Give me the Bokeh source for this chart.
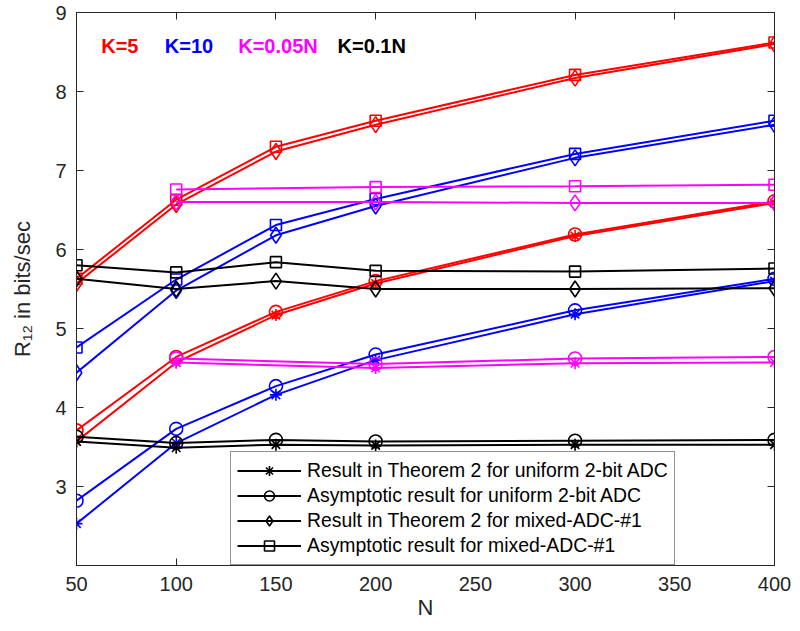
from bokeh.plotting import figure
from bokeh.models import Range1d, FixedTicker, LinearAxis, Legend, LegendItem, Label
from bokeh.embed import file_html
from bokeh.resources import INLINE

# ---------------- data ----------------
N_ALL = [50, 100, 150, 200, 300, 400]
N_MAG = [100, 200, 300, 400]

# K = 5 (red)
k5_thm_uni = [3.57, 4.57, 5.17, 5.57, 6.17, 6.59]
k5_asy_uni = [3.71, 4.64, 5.21, 5.60, 6.19, 6.61]
k5_thm_mix = [5.57, 6.57, 7.24, 7.58, 8.17, 8.60]
k5_asy_mix = [5.63, 6.63, 7.30, 7.63, 8.21, 8.62]

# K = 10 (blue)
k10_thm_uni = [2.53, 3.55, 4.16, 4.60, 5.18, 5.60]
k10_asy_uni = [2.82, 3.73, 4.27, 4.67, 5.23, 5.63]
k10_thm_mix = [4.44, 5.48, 6.18, 6.55, 7.16, 7.58]
k10_asy_mix = [4.76, 5.62, 6.31, 6.64, 7.21, 7.63]

# K = 0.05N (magenta)
k005_thm_uni = [4.57, 4.50, 4.56, 4.57]
k005_asy_uni = [4.62, 4.55, 4.62, 4.64]
k005_thm_mix = [6.60, 6.60, 6.59, 6.59]
k005_asy_mix = [6.76, 6.79, 6.80, 6.82]

# K = 0.1N (black)
k01_thm_uni = [3.57, 3.49, 3.53, 3.52, 3.53, 3.53]
k01_asy_uni = [3.63, 3.55, 3.59, 3.57, 3.58, 3.59]
k01_thm_mix = [5.63, 5.50, 5.60, 5.50, 5.50, 5.51]
k01_asy_mix = [5.80, 5.71, 5.84, 5.73, 5.72, 5.76]

X_TICKS = [50, 100, 150, 200, 250, 300, 350, 400]
Y_TICKS = [3, 4, 5, 6, 7, 8, 9]

LEGEND_LABELS = [
    "Result in Theorem 2 for uniform 2-bit ADC",
    "Asymptotic result for uniform 2-bit ADC",
    "Result in Theorem 2 for mixed-ADC-#1",
    "Asymptotic result for mixed-ADC-#1",
]
K_LABELS = ["K=5", "K=10", "K=0.05N", "K=0.1N"]
K_COLORS = ["#FF0000", "#0000FF", "#FF00FF", "#000000"]
K_LABEL_X = [62.4, 94.3, 131.1, 180.9]
K_LABEL_Y = 8.57

# ---------------- figure ----------------
FONT = "Liberation Sans"
AX_COL = "#262626"

p = figure(width=792, height=623, output_backend="svg", toolbar_location=None,
           x_range=Range1d(50, 400), y_range=Range1d(2, 9),
           min_border_left=76, min_border_right=18, min_border_top=12,
           min_border_bottom=58)
p.background_fill_color = "white"
p.border_fill_color = "white"
p.outline_line_color = AX_COL
p.outline_line_width = 1
p.xgrid.visible = False
p.ygrid.visible = False

for ax, ticks in ((p.xaxis[0], X_TICKS), (p.yaxis[0], Y_TICKS)):
    ax.ticker = FixedTicker(ticks=ticks)
    ax.major_tick_in = 7
    ax.major_tick_out = 0
    ax.minor_tick_in = 0
    ax.minor_tick_out = 0
    ax.axis_line_color = AX_COL
    ax.major_tick_line_color = AX_COL
    ax.major_label_text_font = FONT
    ax.major_label_text_font_size = "20px"
    ax.major_label_text_color = AX_COL
    ax.axis_label_text_font = FONT
    ax.axis_label_text_font_size = "22px"
    ax.axis_label_text_font_style = "normal"
    ax.axis_label_text_color = AX_COL

p.xaxis[0].axis_label = "N"
p.xaxis[0].major_label_standoff = 11
p.xaxis[0].axis_label_standoff = 1
p.yaxis[0].axis_label = "R\u2081\u2082 in bits/sec"
p.yaxis[0].major_label_standoff = 10
p.yaxis[0].axis_label_standoff = 17

# box ticks on top and right (no labels drawn)
for loc, ticks in (("above", X_TICKS), ("right", Y_TICKS)):
    ax = LinearAxis(ticker=FixedTicker(ticks=ticks))
    ax.major_tick_in = 7
    ax.major_tick_out = 0
    ax.minor_tick_in = 0
    ax.minor_tick_out = 0
    ax.major_label_text_color = None
    ax.major_label_text_font_size = "1px"
    ax.major_label_standoff = 0
    ax.axis_line_color = AX_COL
    ax.major_tick_line_color = AX_COL
    p.add_layout(ax, loc)

# ---------------- series ----------------
MARKERS = [("asterisk", 12), ("circle", 13), ("diamond", 16), ("square", 11)]

groups = [
    (N_ALL, [k5_thm_uni, k5_asy_uni, k5_thm_mix, k5_asy_mix], "#FF0000"),
    (N_ALL, [k10_thm_uni, k10_asy_uni, k10_thm_mix, k10_asy_mix], "#0000FF"),
    (N_MAG, [k005_thm_uni, k005_asy_uni, k005_thm_mix, k005_asy_mix], "#FF00FF"),
    (N_ALL, [k01_thm_uni, k01_asy_uni, k01_thm_mix, k01_asy_mix], "#000000"),
]

legend_renderers = []
for xs, series, color in groups:
    for ys, (mk, sz) in zip(series, MARKERS):
        lr = p.line(xs, ys, line_color=color, line_width=2)
        sr = p.scatter(xs, ys, marker=mk, size=sz, line_color=color,
                       fill_color=None, line_width=1.6)
        if color == "#000000":
            legend_renderers.append([lr, sr])

legend = Legend(items=[LegendItem(label=lab, renderers=rs)
                       for lab, rs in zip(LEGEND_LABELS, legend_renderers)],
                location=(154, 0))
legend.label_text_font = FONT
legend.label_text_font_size = "19.4px"
legend.label_text_color = "#000000"
legend.border_line_color = AX_COL
legend.border_line_width = 1
legend.background_fill_color = "white"
legend.background_fill_alpha = 1.0
legend.padding = 6
legend.margin = 0
legend.spacing = 0
legend.glyph_width = 64
legend.glyph_height = 25
legend.label_standoff = 6
legend.label_height = 20
p.add_layout(legend, "center")

for txt, col, xv in zip(K_LABELS, K_COLORS, K_LABEL_X):
    p.add_layout(Label(x=xv, y=K_LABEL_Y, text=txt, text_color=col,
                       text_font=FONT, text_font_size="20px",
                       text_font_style="bold", text_baseline="middle",
                       text_align="left"))

open("out.html", "w").write(file_html(p, INLINE))
